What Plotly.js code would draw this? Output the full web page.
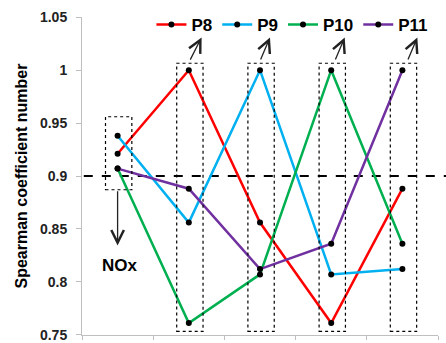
<!DOCTYPE html>
<html>
<head>
<meta charset="utf-8">
<script src="https://cdn.plot.ly/plotly-3.0.1.min.js"></script>
<style>html,body{margin:0;padding:0;background:#fff;}#chart{width:446px;height:343px;}</style>
</head>
<body>
<div id="chart"></div>
<script>
var categories = ['NOx', 'C2', 'C3', 'C4', 'C5'];
var seriesNames = ['P8', 'P9', 'P10', 'P11'];
var seriesColors = ['#FF0000', '#00B0F0', '#00B050', '#7030A0'];
var P8 = [0.921, 1.000, 0.856, 0.761, 0.888];
var P9 = [0.938, 0.856, 1.000, 0.807, 0.812];
var P10 = [0.907, 0.761, 0.807, 1.000, 0.836];
var P11 = [0.907, 0.888, 0.812, 0.836, 1.000];
var yTickVals = [0.75, 0.8, 0.85, 0.9, 0.95, 1, 1.05];
var yTickText = ['0.75', '0.8', '0.85', '0.9', '0.95', '1', '1.05'];
var threshold = 0.9;

var seriesValues = [P8, P9, P10, P11];
var FONT = 'Liberation Sans, Arial, sans-serif';

var traces = seriesValues.map(function (vals, i) {
  return {
    type: 'scatter', mode: 'lines+markers',
    x: categories.map(function (c, j) { return j; }),
    y: vals, name: seriesNames[i],
    line: {color: seriesColors[i], width: 2.5},
    marker: {color: '#000', size: 6},
    cliponaxis: false
  };
});

var shapes = [
  {type: 'line', xref: 'paper', yref: 'y', x0: 0.005, x1: 1.03, y0: threshold, y1: threshold,
   line: {color: '#000', width: 1.8, dash: 'dash'}, layer: 'below'},
  {type: 'rect', xref: 'x', yref: 'y', x0: -0.17, x1: 0.2, y0: 0.887, y1: 0.956,
   line: {color: '#000', width: 1.2, dash: 'dot'}}
];
[1, 2, 3, 4].forEach(function (k) {
  shapes.push({type: 'rect', xref: 'x', yref: 'y', x0: k - 0.17, x1: k + 0.2, y0: 0.7531, y1: 1.0066,
    line: {color: '#000', width: 1.2, dash: 'dot'}});
});

var arrowStyle = {showarrow: true, arrowhead: 5, arrowsize: 1.9, arrowwidth: 1.3, arrowcolor: '#222',
  xref: 'x', yref: 'y', axref: 'x', ayref: 'y', text: ''};
var annotations = [
  Object.assign({}, arrowStyle, {x: 0, y: 0.8344, ax: 0, ay: 0.887}),
  {xref: 'x', yref: 'y', x: 0.03, y: 0.8153, text: '<b>NOx</b>', showarrow: false,
   font: {family: FONT, size: 17, color: '#000'}}
];
[[1.01, 1.18], [2.0, 2.14], [3.05, 3.19], [4.07, 4.21]].forEach(function (p) {
  annotations.push(Object.assign({}, arrowStyle, {x: p[1], y: 1.031, ax: p[0], ay: 1.0086}));
});

var layout = {
  width: 446, height: 343,
  margin: {l: 82, r: 8, t: 16, b: 8},
  paper_bgcolor: '#fff', plot_bgcolor: '#fff',
  font: {family: FONT, color: '#000'},
  showlegend: true,
  legend: {orientation: 'h', x: 0.195, y: 0.972, xanchor: 'left', yanchor: 'middle',
    font: {family: FONT, size: 17, color: '#000', weight: 'bold'}, bgcolor: 'rgba(0,0,0,0)'},
  xaxis: {type: 'linear', range: [-0.5, 4.5], showticklabels: false, showgrid: false, zeroline: false,
    showline: true, linecolor: '#BFBFBF', linewidth: 1, ticks: 'outside', ticklen: 4, tickcolor: '#BFBFBF',
    tickvals: [-0.5, 0.5, 1.5, 2.5, 3.5, 4.5]},
  yaxis: {range: [0.7497, 1.0503], tickvals: yTickVals, ticktext: yTickText, showgrid: false, zeroline: false,
    showline: true, linecolor: '#BFBFBF', linewidth: 1, ticks: 'outside', ticklen: 5, tickcolor: '#BFBFBF',
    ticklabelstandoff: 6, ticklabeloverflow: 'allow',
    tickfont: {family: FONT, size: 14, color: '#222', weight: 'bold'},
    title: {text: '<b>Spearman coefficient number</b>', font: {family: FONT, size: 16, color: '#000'}, standoff: 8}},
  shapes: shapes,
  annotations: annotations
};

Plotly.newPlot('chart', traces, layout, {displayModeBar: false, staticPlot: true});
</script>
</body>
</html>
